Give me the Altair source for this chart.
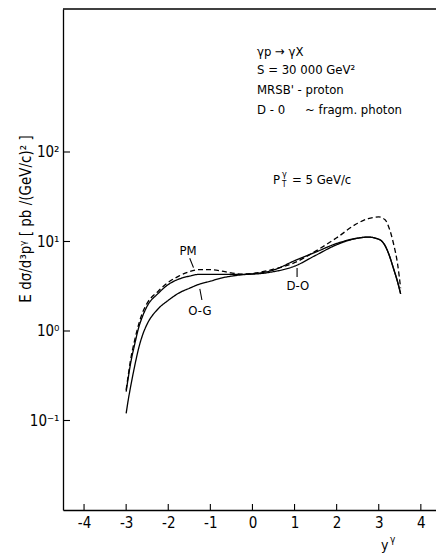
import altair as alt
import pandas as pd

# rapidity grid
y_gamma = [-3.0, -2.95, -2.9, -2.8, -2.7, -2.6, -2.5, -2.25, -2.0, -1.75, -1.5, -1.25, -1.0,
           -0.75, -0.5, -0.25, 0.0, 0.5, 1.0, 1.5, 2.0, 2.5, 2.75, 3.0, 3.15, 3.25, 3.35, 3.45, 3.52]

pm_dashed = [0.22, 0.32, 0.46, 0.78, 1.2, 1.65, 2.05, 2.75, 3.5, 4.1, 4.6, 4.85, 4.85,
             4.7, 4.45, 4.32, 4.4, 4.9, 5.8, 7.8, 11.0, 16.0, 18.0, 18.8, 17.5, 14.0, 9.5, 5.5, 3.0]
do_solid = [0.21, 0.30, 0.42, 0.70, 1.1, 1.5, 1.9, 2.6, 3.3, 3.8, 4.1, 4.3, 4.3,
            4.3, 4.3, 4.3, 4.32, 4.6, 5.3, 7.0, 9.2, 10.9, 11.2, 10.6, 9.0, 7.0, 5.0, 3.5, 2.6]
og_solid = [0.12, 0.17, 0.23, 0.40, 0.65, 0.93, 1.2, 1.75, 2.2, 2.65, 3.0, 3.35, 3.6,
            3.9, 4.1, 4.25, 4.35, 4.8, 6.1, 7.6, 9.5, 10.9, 11.2, 10.6, 9.0, 7.0, 5.0, 3.5, 2.6]

x_ticks = [-4, -3, -2, -1, 0, 1, 2, 3, 4]
y_ticks = [0.1, 1, 10, 100]

curve_labels = ["PM", "O-G", "D-O"]
label_x = [-1.53, -1.25, 1.08]
label_y = [7.8, 1.67, 3.18]
pointer_x1 = [-1.49, -1.25, 1.06]
pointer_y1 = [6.5, 2.95, 5.06]
pointer_x2 = [-1.40, -1.20, 1.06]
pointer_y2 = [5.1, 2.22, 4.0]

FONT = "DejaVu Sans Condensed, DejaVu Sans"

rows = []
for name, vals in [("PM", pm_dashed), ("D-O", do_solid), ("O-G", og_solid)]:
    for xv, yv in zip(y_gamma, vals):
        rows.append({"y": xv, "v": yv, "curve": name, "dash": "dashed" if name == "PM" else "solid"})
df = pd.DataFrame(rows)

W, H = 373, 501
xs = alt.Scale(domain=[-4.5, 4.36], nice=False, zero=False)
ys = alt.Scale(type="log", domain=[0.01, 3960], nice=False)

ytick_labels = ("datum.value == 100 ? '10²' : datum.value == 10 ? '10¹' : "
                "datum.value == 1 ? '10⁰' : '10⁻¹'")

base = alt.Chart(df)
lines = base.mark_line(color="black", strokeWidth=1.3, interpolate="monotone").encode(
    x=alt.X("y:Q", scale=xs,
            axis=alt.Axis(values=x_ticks, ticks=False, grid=False, title=None,
                          labelExpr="toString(datum.value)", labelFontSize=15,
                          labelFont=FONT, labelColor="black", labelPadding=5,
                          domainColor="black", domainWidth=1.3)),
    y=alt.Y("v:Q", scale=ys,
            axis=alt.Axis(values=y_ticks, ticks=False, grid=False, title=None,
                          labelExpr=ytick_labels, labelFontSize=15, labelFont=FONT,
                          labelColor="black", labelPadding=4,
                          domainColor="black", domainWidth=1.3)),
    detail="curve:N",
    strokeDash=alt.StrokeDash("dash:N", scale=alt.Scale(domain=["solid", "dashed"],
                                                        range=[[1, 0], [5, 3]]), legend=None),
)

xt = alt.Chart(pd.DataFrame({"t": x_ticks})).mark_rule(color="black", strokeWidth=1.1).encode(
    x=alt.X("t:Q", scale=xs), y=alt.value(H), y2=alt.value(H - 6))
yt = alt.Chart(pd.DataFrame({"t": y_ticks})).mark_rule(color="black", strokeWidth=1.1).encode(
    y=alt.Y("t:Q", scale=ys), x=alt.value(0), x2=alt.value(7))
top = alt.Chart(pd.DataFrame({"a": [0]})).mark_rule(color="black", strokeWidth=1.5).encode(
    y=alt.value(0), x=alt.value(0), x2=alt.value(W))

lab_df = pd.DataFrame({"lab": curve_labels, "lx": label_x, "ly": label_y,
                       "x1": pointer_x1, "y1": pointer_y1, "x2": pointer_x2, "y2": pointer_y2})
labs = alt.Chart(lab_df).mark_text(font=FONT, fontSize=13, color="black").encode(
    x=alt.X("lx:Q", scale=xs), y=alt.Y("ly:Q", scale=ys), text="lab:N")
ptrs = alt.Chart(lab_df).mark_rule(color="black", strokeWidth=1.1).encode(
    x=alt.X("x1:Q", scale=xs), y=alt.Y("y1:Q", scale=ys), x2="x2:Q", y2="y2:Q")

info_lines = ["γp → γX", "S = 30 000 GeV²", "MRSB' - proton", "D - 0"]
info_y = [43, 61, 81, 101]
info_df = pd.DataFrame({"t": info_lines, "py": info_y})
info = alt.Chart(info_df).mark_text(font=FONT, fontSize=13, color="black", align="left",
                                    baseline="middle").encode(
    x=alt.value(194), y=alt.Y("py:Q", scale=None), text="t:N")
frag = alt.Chart(pd.DataFrame({"t": ["~ fragm.  photon"]})).mark_text(
    font=FONT, fontSize=13, color="black", align="left", baseline="middle").encode(
    x=alt.value(242), y=alt.value(101), text="t:N")

pt_df = pd.DataFrame({"t": ["P", "γ", "T", "= 5 GeV/c"], "px": [210, 219, 219, 229],
                      "py": [171, 165, 176, 171], "fs": [13, 9, 8, 13]})
pt = alt.Chart(pt_df).mark_text(font=FONT, color="black", align="left", baseline="middle").encode(
    x=alt.X("px:Q", scale=None), y=alt.Y("py:Q", scale=None), text="t:N",
    size=alt.Size("fs:Q", scale=None, legend=None))

ytitle = alt.Chart(pd.DataFrame({"t": ["E dσ/d³pᵞ [ pb /(GeV/c)² ]"]})).mark_text(
    font=FONT, fontSize=15, color="black", angle=270, align="center", baseline="middle").encode(
    x=alt.value(-37), y=alt.value(210), text="t:N")
xtitle = alt.Chart(pd.DataFrame({"t": ["y", "γ"], "px": [318, 327], "py": [537, 531],
                                 "fs": [14, 10]})).mark_text(
    font=FONT, color="black", align="left", baseline="middle").encode(
    x=alt.X("px:Q", scale=None), y=alt.Y("py:Q", scale=None), text="t:N",
    size=alt.Size("fs:Q", scale=None, legend=None))

chart = alt.layer(lines, xt, yt, top, ptrs, labs, info, frag, pt, ytitle, xtitle).resolve_scale(
    x="shared", y="shared").properties(
    width=W, height=H,
    padding={"left": 63, "top": 9, "right": 0, "bottom": 44},
    autosize=alt.AutoSizeParams(type="none"),
    background="white",
).configure_view(stroke=None)

chart.save("out.html", embed_options={"renderer": "svg", "actions": False})
